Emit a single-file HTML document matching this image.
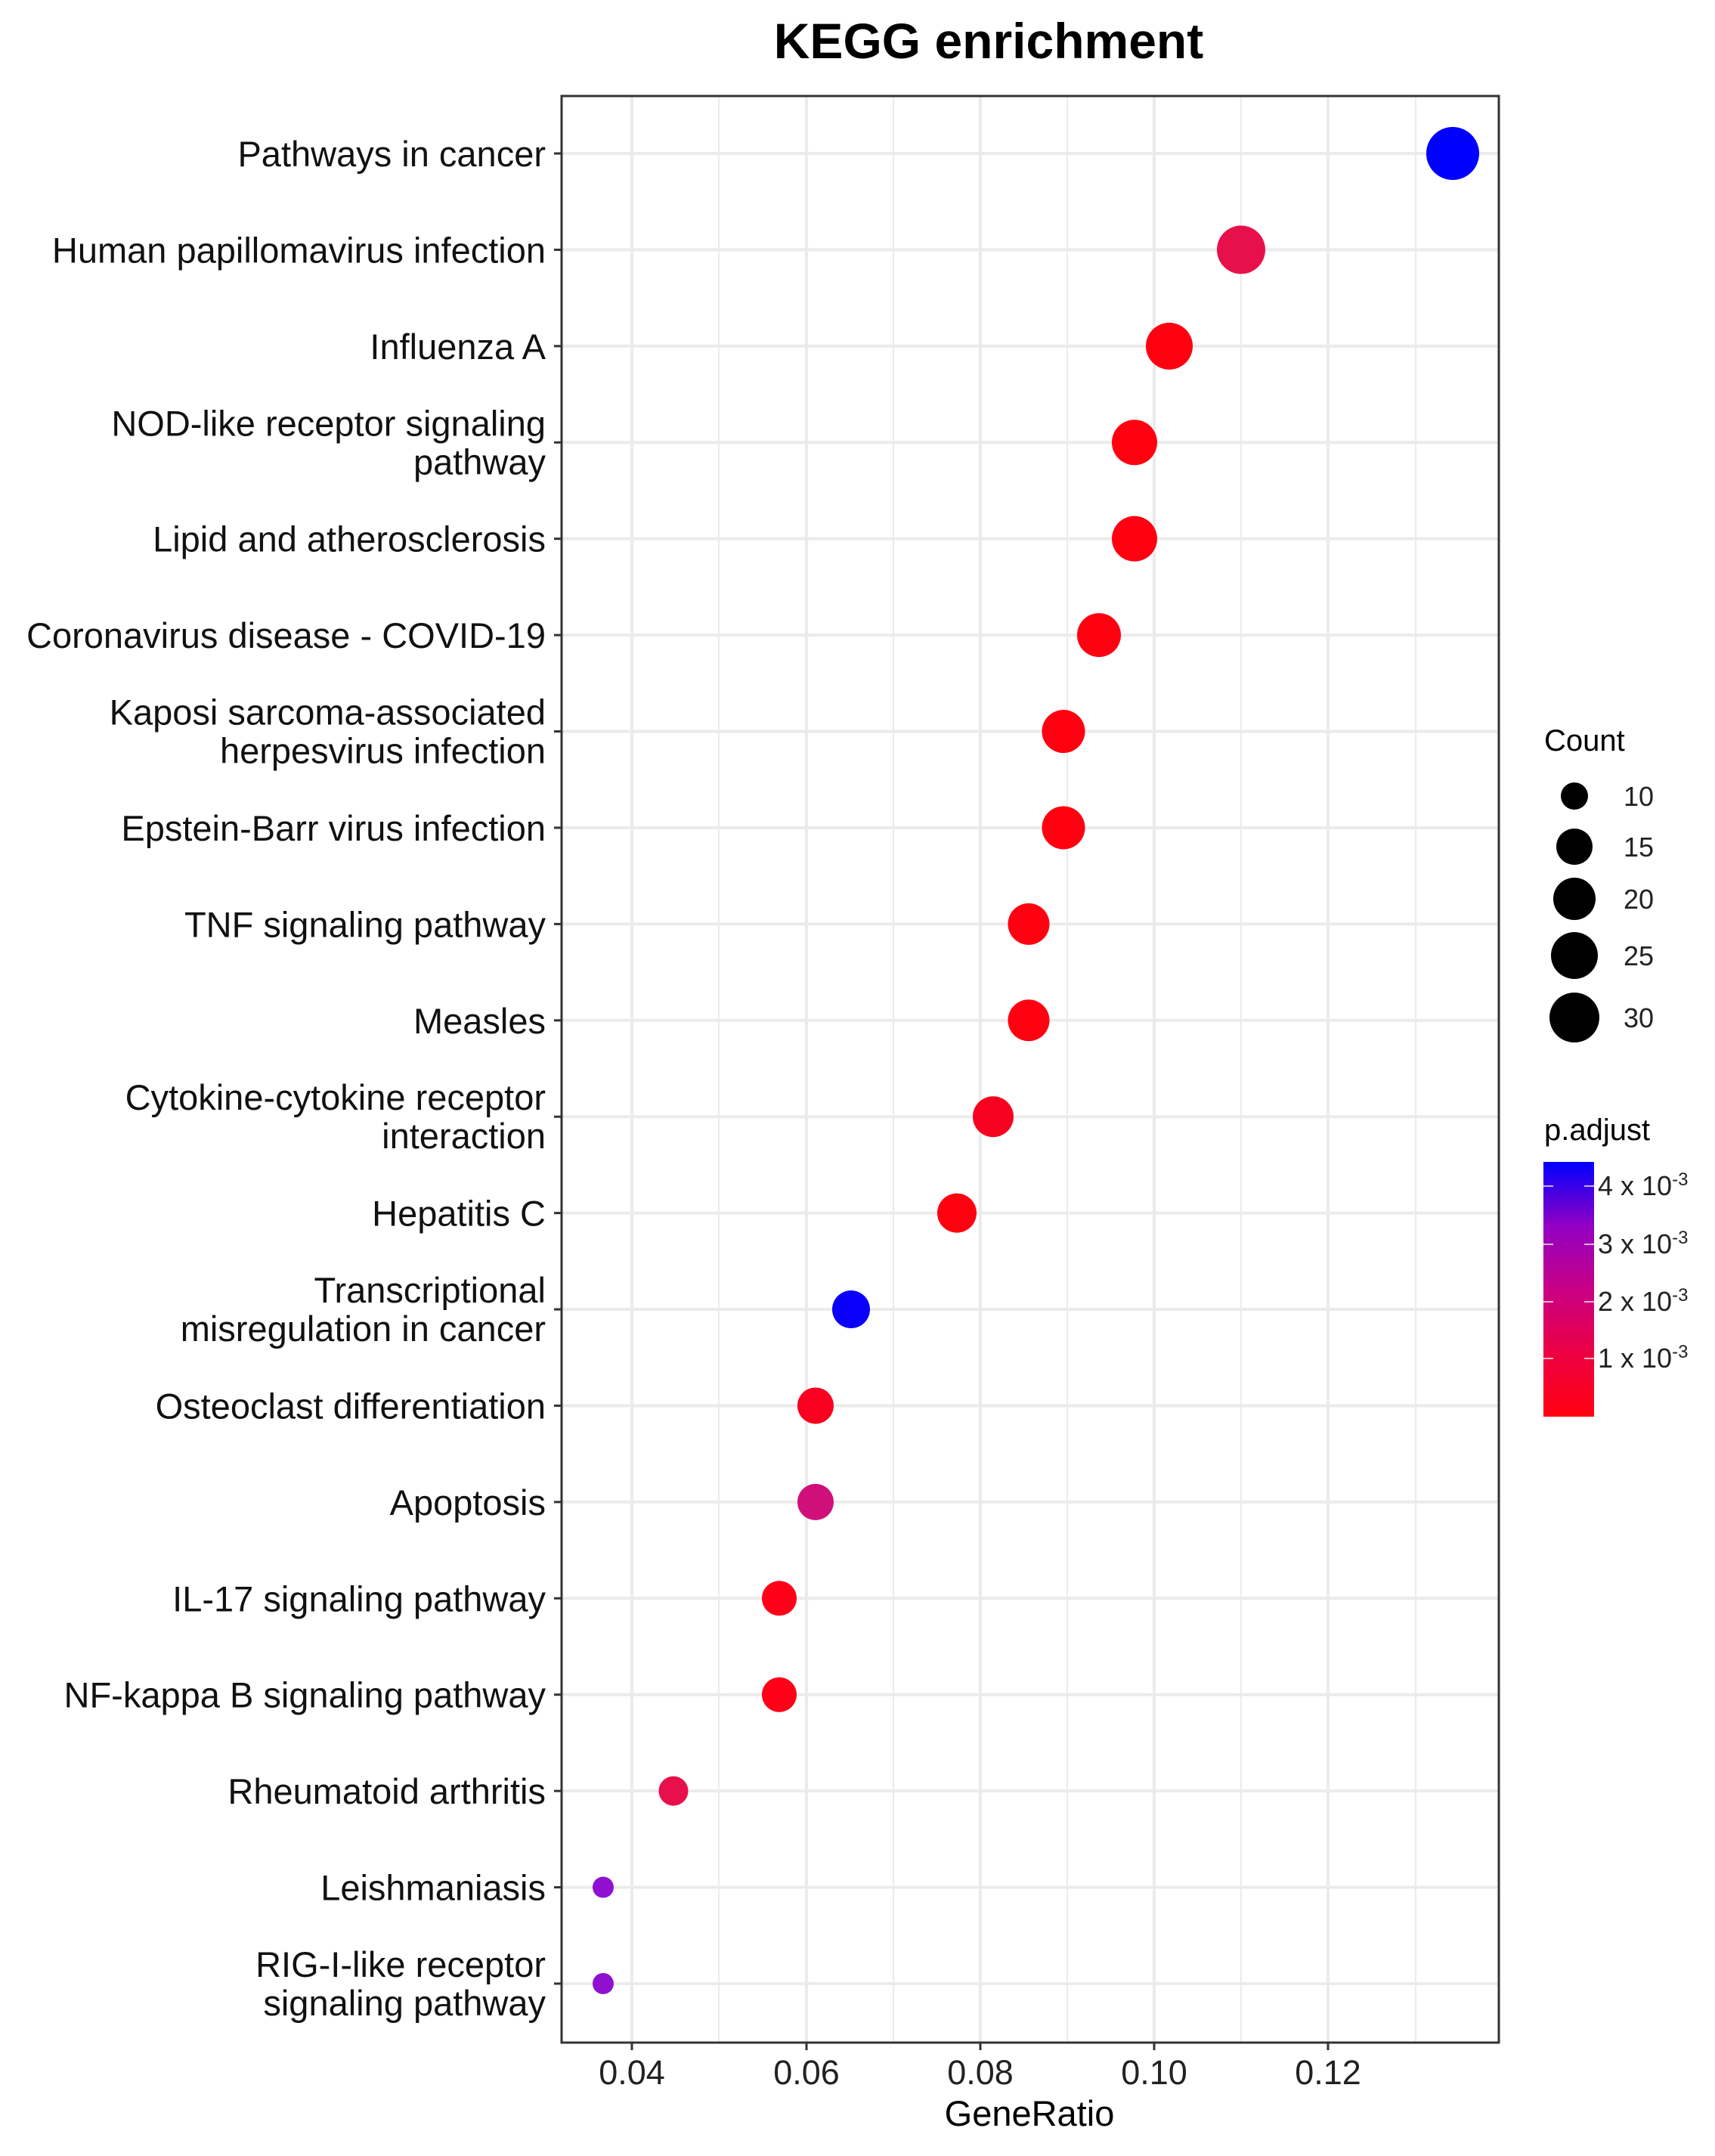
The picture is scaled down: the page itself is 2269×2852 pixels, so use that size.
<!DOCTYPE html>
<html><head><meta charset="utf-8"><style>html,body{margin:0;padding:0;background:#fff}svg{display:block}</style></head>
<body>
<svg width="2269" height="2852" viewBox="0 0 2269 2852" xmlns="http://www.w3.org/2000/svg" font-family="Liberation Sans, Arial, sans-serif">
<defs>
<linearGradient id="cb" x1="0" y1="1" x2="0" y2="0">
<stop offset="0" stop-color="#FF0010"/>
<stop offset="0.25" stop-color="#EC0042"/>
<stop offset="0.5" stop-color="#C80085"/>
<stop offset="0.75" stop-color="#9200C4"/>
<stop offset="1" stop-color="#0000FF"/>
</linearGradient>
</defs>
<rect width="2269" height="2852" fill="#fff"/>
<text x="1308" y="77" font-size="66" font-weight="bold" text-anchor="middle">KEGG enrichment</text>
<g stroke="#EBEBEB">
<g stroke-width="2">
<line x1="951" y1="127" x2="951" y2="2702"/><line x1="1182" y1="127" x2="1182" y2="2702"/><line x1="1412" y1="127" x2="1412" y2="2702"/><line x1="1642" y1="127" x2="1642" y2="2702"/><line x1="1873" y1="127" x2="1873" y2="2702"/>
</g>
<g stroke-width="4">
<line x1="836" y1="127" x2="836" y2="2702"/><line x1="1067" y1="127" x2="1067" y2="2702"/><line x1="1297" y1="127" x2="1297" y2="2702"/><line x1="1527" y1="127" x2="1527" y2="2702"/><line x1="1757" y1="127" x2="1757" y2="2702"/>
</g>
<g stroke-width="4" id="hg"></g>
</g>
<g id="rows"></g>
<rect x="743" y="127" width="1240" height="2575" fill="none" stroke="#333" stroke-width="3"/>
<g stroke="#333" stroke-width="3">
<line x1="836" y1="2702" x2="836" y2="2712"/><line x1="1067" y1="2702" x2="1067" y2="2712"/><line x1="1297" y1="2702" x2="1297" y2="2712"/><line x1="1527" y1="2702" x2="1527" y2="2712"/><line x1="1757" y1="2702" x2="1757" y2="2712"/>
</g>
<g font-size="45" fill="#222" text-anchor="middle">
<text x="836" y="2757">0.04</text><text x="1067" y="2757">0.06</text><text x="1297" y="2757">0.08</text><text x="1527" y="2757">0.10</text><text x="1757" y="2757">0.12</text>
</g>
<text x="1362" y="2812" font-size="47" text-anchor="middle">GeneRatio</text>
<text x="2043" y="993" font-size="40">Count</text>
<g fill="#000">
<circle cx="2083" cy="1053" r="18"/><circle cx="2083" cy="1120" r="24"/><circle cx="2083" cy="1189" r="28"/><circle cx="2083" cy="1264" r="31"/><circle cx="2083" cy="1346" r="33"/>
</g>
<g font-size="36" fill="#222">
<text x="2148" y="1066">10</text><text x="2148" y="1133">15</text><text x="2148" y="1202">20</text><text x="2148" y="1277">25</text><text x="2148" y="1359">30</text>
</g>
<text x="2043" y="1508" font-size="40">p.adjust</text>
<rect x="2042" y="1537" width="67" height="337" fill="url(#cb)"/>
<g stroke="#fff" stroke-width="2" opacity="0.7">
<line x1="2042" y1="1569" x2="2055" y2="1569"/><line x1="2096" y1="1569" x2="2109" y2="1569"/>
<line x1="2042" y1="1646" x2="2055" y2="1646"/><line x1="2096" y1="1646" x2="2109" y2="1646"/>
<line x1="2042" y1="1722" x2="2055" y2="1722"/><line x1="2096" y1="1722" x2="2109" y2="1722"/>
<line x1="2042" y1="1797" x2="2055" y2="1797"/><line x1="2096" y1="1797" x2="2109" y2="1797"/>
</g>
<g font-size="36" fill="#222">
<text x="2114" y="1581">4 x 10<tspan font-size="24" dy="-13">-3</tspan></text>
<text x="2114" y="1658">3 x 10<tspan font-size="24" dy="-13">-3</tspan></text>
<text x="2114" y="1734">2 x 10<tspan font-size="24" dy="-13">-3</tspan></text>
<text x="2114" y="1809">1 x 10<tspan font-size="24" dy="-13">-3</tspan></text>
</g>
<script>
var d=[
["Pathways in cancer",null,1922,35,"#0000FF"],
["Human papillomavirus infection",null,1642,32,"#E8104A"],
["Influenza A",null,1547,31,"#FF0010"],
["NOD-like receptor signaling","pathway",1501,30,"#FF0010"],
["Lipid and atherosclerosis",null,1501,30,"#FF0010"],
["Coronavirus disease - COVID-19",null,1454,29,"#FF0010"],
["Kaposi sarcoma-associated","herpesvirus infection",1407,28.5,"#FF0010"],
["Epstein-Barr virus infection",null,1407,28.5,"#FF0010"],
["TNF signaling pathway",null,1361,27.5,"#FF0010"],
["Measles",null,1361,27.5,"#FF0010"],
["Cytokine-cytokine receptor","interaction",1314,27,"#F80020"],
["Hepatitis C",null,1266,26,"#FF0010"],
["Transcriptional","misregulation in cancer",1126,25,"#0A00FA"],
["Osteoclast differentiation",null,1079,24,"#FA0020"],
["Apoptosis",null,1079,24,"#D0107A"],
["IL-17 signaling pathway",null,1031,23,"#FF0018"],
["NF-kappa B signaling pathway",null,1031,23,"#FF0018"],
["Rheumatoid arthritis",null,891,19.5,"#E8104A"],
["Leishmaniasis",null,798,14,"#9010D0"],
["RIG-I-like receptor","signaling pathway",798,14,"#9010D0"]];
var ns="http://www.w3.org/2000/svg",g=document.getElementById("rows"),hg=document.getElementById("hg");
function el(t,a,p){var e=document.createElementNS(ns,t);for(var k in a)e.setAttribute(k,a[k]);p.appendChild(e);return e;}
d.forEach(function(r,i){var y=203+i*127.42;
el("line",{x1:743,x2:1983,y1:y,y2:y},hg);
el("line",{x1:733,x2:743,y1:y,y2:y,stroke:"#333","stroke-width":3},g);
var a={x:722,"text-anchor":"end","font-size":47,fill:"#111"};
if(r[1]){a.y=y-9;el("text",a,g).textContent=r[0];a.y=y+42;el("text",a,g).textContent=r[1];}
else{a.y=y+17;el("text",a,g).textContent=r[0];}
el("circle",{cx:r[2],cy:y,r:r[3],fill:r[4]},g);});
</script>
</svg>
</body></html>
